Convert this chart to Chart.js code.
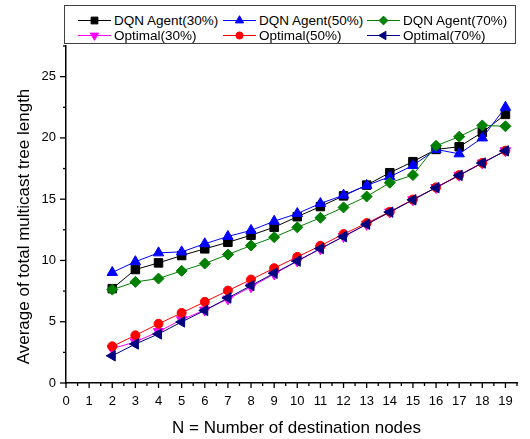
<!DOCTYPE html>
<html>
<head>
<meta charset="utf-8">
<script src="https://cdn.jsdelivr.net/npm/chart.js@4"></script>
<style>
  body { margin: 0; background: #fff; }
  #wrap { position: relative; width: 530px; height: 439px; }
  #legend {
    position: absolute; left: 64px; top: 5px; width: 450px; height: 37px;
    border: 1px solid #404040; background: #fff;
    font-family: "Liberation Sans", Arial, sans-serif; font-size: 13.5px; color: #000;
  }
  .item { position: absolute; display: flex; align-items: center; height: 16px; white-space: nowrap; }
  .item span { margin-left: 3px; }
</style>
</head>
<body>
<div id="wrap">
  <canvas id="chart" width="530" height="439"></canvas>
  <div id="legend"></div>
</div>
<script>
// x = number of destination nodes
const nodes = [2, 3, 4, 5, 6, 7, 8, 9, 10, 11, 12, 13, 14, 15, 16, 17, 18, 19];

// values
const dqn30 = [7.7, 9.26, 9.8, 10.4, 10.95, 11.48, 12.06, 12.71, 13.57, 14.4, 15.27, 16.15, 17.16, 18.06, 19.06, 19.28, 20.45, 21.92];
const dqn50 = [9.02, 9.9, 10.62, 10.7, 11.36, 11.96, 12.45, 13.2, 13.83, 14.65, 15.33, 16.12, 16.83, 17.75, 19.06, 18.7, 20.0, 22.5];
const dqn70 = [7.62, 8.25, 8.52, 9.15, 9.75, 10.48, 11.22, 11.9, 12.7, 13.48, 14.33, 15.22, 16.34, 16.97, 19.36, 20.1, 21.02, 20.95];
const opt30 = [2.8, 3.35, 4.2, 5.17, 5.95, 6.85, 7.85, 8.9, 9.95, 10.95, 11.95, 12.95, 13.95, 14.95, 15.95, 16.95, 17.95, 18.95];
const opt50 = [2.99, 3.89, 4.83, 5.72, 6.62, 7.54, 8.44, 9.37, 10.29, 11.2, 12.15, 13.05, 13.97, 14.97, 15.96, 16.96, 17.96, 18.96];
const opt70 = [2.22, 3.18, 4.0, 4.98, 5.92, 6.94, 7.95, 8.96, 9.95, 10.97, 11.95, 12.95, 13.94, 14.95, 15.94, 16.94, 17.95, 18.94];

const FONT = '"Liberation Sans", Arial, sans-serif';

function series(label, values, color, style, rotation, radius) {
    return {
        label: label,
        data: nodes.map((n, i) => ({ x: n, y: values[i] })),
        borderColor: color,
        backgroundColor: color,
        borderWidth: 1,
        pointStyle: style,
        pointRotation: rotation,
        pointRadius: radius,
        pointBorderWidth: 1,
        pointHoverRadius: radius
    };
}

const datasets = [
    series('DQN Agent(30%)', dqn30, '#000000', 'rect', 0, 6),
    series('DQN Agent(50%)', dqn50, '#0000ff', 'triangle', 0, 6),
    series('DQN Agent(70%)', dqn70, '#008000', 'rectRot', 0, 5.5),
    series('Optimal(30%)', opt30, '#ff00ff', 'triangle', 180, 6),
    series('Optimal(50%)', opt50, '#ff0000', 'circle', 0, 4.5),
    series('Optimal(70%)', opt70, '#000080', 'triangle', 270, 6)
];
// later series painted on top, like the original plot
datasets.forEach((d, i) => d.order = datasets.length - i);

// outward tick marks, long on labelled values and short in between
const tickMarks = {
    id: 'tickMarks',
    afterDraw(chart) {
        const { ctx, scales: { x, y } } = chart;
        ctx.save();
        ctx.strokeStyle = '#000';
        ctx.lineWidth = 1.3;
        x.ticks.forEach(t => {
            const px = x.getPixelForValue(t.value);
            const len = t.value % 1 === 0 ? 5 : 3;
            ctx.beginPath();
            ctx.moveTo(px, y.bottom);
            ctx.lineTo(px, y.bottom + len);
            ctx.stroke();
        });
        y.ticks.forEach(t => {
            const py = y.getPixelForValue(t.value);
            const len = t.value % 5 === 0 ? 6 : 3;
            ctx.beginPath();
            ctx.moveTo(x.left, py);
            ctx.lineTo(x.left - len, py);
            ctx.stroke();
        });
        ctx.restore();
    }
};

// axis titles
const axisTitles = {
    id: 'axisTitles',
    afterDraw(chart) {
        const { ctx, chartArea } = chart;
        ctx.save();
        ctx.fillStyle = '#000';
        ctx.font = '17px ' + FONT;
        ctx.textAlign = 'center';
        ctx.textBaseline = 'middle';
        ctx.fillText('N = Number of destination nodes', (chartArea.left + chartArea.right) / 2 + 5, chartArea.bottom + 45);
        ctx.translate(24, (chartArea.top + chartArea.bottom) / 2 + 12);
        ctx.rotate(-Math.PI / 2);
        ctx.fillText('Average of total multicast tree length', 0, 0);
        ctx.restore();
    }
};

const chart = new Chart(document.getElementById('chart'), {
    type: 'line',
    data: { datasets: datasets },
    options: {
        responsive: false,
        animation: false,
        layout: { padding: { top: 46, right: 13, left: 0, bottom: 0 } },
        plugins: { legend: { display: false }, tooltip: { enabled: false } },
        scales: {
            x: {
                type: 'linear',
                min: 0,
                max: 19.5,
                grid: { display: false, drawTicks: false },
                border: { display: true, color: '#000', width: 1.5 },
                ticks: {
                    stepSize: 0.5,
                    autoSkip: false,
                    maxRotation: 0,
                    padding: 11,
                    color: '#000',
                    font: { family: FONT, size: 13 },
                    callback: v => (v % 1 === 0 ? v : '')
                },
                afterFit: s => { s.height = 56; }
            },
            y: {
                min: 0,
                max: 27.5,
                grid: { display: false, drawTicks: false },
                border: { display: true, color: '#000', width: 1.5 },
                ticks: {
                    stepSize: 2.5,
                    autoSkip: false,
                    padding: 10,
                    color: '#000',
                    font: { family: FONT, size: 13 },
                    callback: v => (v % 5 === 0 ? v : '')
                },
                afterFit: s => { s.width = 66; }
            }
        }
    },
    plugins: [tickMarks, axisTitles]
});

// legend: 3 columns x 2 rows inside a framed box
const legendCols = [13, 158, 302];
const legendRows = [6, 21];
const legend = document.getElementById('legend');
datasets.forEach((d, i) => {
    const item = document.createElement('div');
    item.className = 'item';
    item.style.left = legendCols[i % 3] + 'px';
    item.style.top = legendRows[Math.floor(i / 3)] + 'px';
    const c = document.createElement('canvas');
    c.width = 33;
    c.height = 14;
    const ctx = c.getContext('2d');
    ctx.strokeStyle = d.borderColor;
    ctx.fillStyle = d.backgroundColor;
    ctx.lineWidth = 1;
    ctx.beginPath();
    ctx.moveTo(0, 7.5);
    ctx.lineTo(33, 7.5);
    ctx.stroke();
    Chart.helpers.drawPoint(ctx, {
        pointStyle: d.pointStyle,
        rotation: d.pointRotation,
        radius: d.pointRadius * 0.8,
        borderWidth: 1
    }, 16.5, 7.5);
    item.appendChild(c);
    const label = document.createElement('span');
    label.textContent = d.label;
    item.appendChild(label);
    legend.appendChild(item);
});
</script>
</body>
</html>
